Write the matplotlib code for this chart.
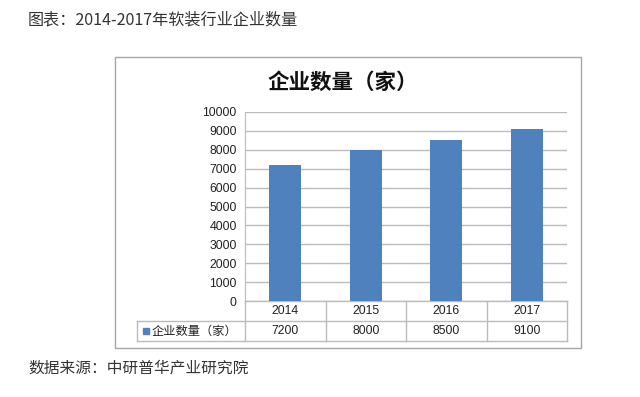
import matplotlib.pyplot as plt
from matplotlib.patches import Rectangle

plt.rcParams['font.family'] = ['Liberation Sans', 'Noto Sans CJK SC', 'DejaVu Sans']

years = ['2014', '2015', '2016', '2017']
counts = [7200, 8000, 8500, 9100]
series_name = '企业数量（家）'
header = '图表：2014-2017年软装行业企业数量'
source = '数据来源：中研普华产业研究院'

W, H = 640, 397
fig = plt.figure(figsize=(W / 100, H / 100), dpi=100)

def fx(px):
    return px / W

def fy(py):
    return 1 - py / H

# outer chart frame
fig.patches.append(Rectangle((fx(115), fy(348)), fx(581) - fx(115), fy(57) - fy(348),
                             transform=fig.transFigure, fill=False, ec='#a6a6a6', lw=1))

fig.text(fx(28), fy(20), header, fontsize=11.6, color='#333333', va='center',
         family=['Noto Sans CJK SC'])
fig.text(fx(28), fy(368), source, fontsize=11.3, color='#333333', va='center',
         family=['Noto Sans CJK SC'])
fig.text(fx(343), fy(82), series_name, fontsize=15.5, fontweight='bold', color='#111111',
         ha='center', va='center', family=['Noto Sans CJK SC'])

L, R, T, B = 245, 567, 112, 301
ax = fig.add_axes([fx(L), fy(B), fx(R) - fx(L), fy(T) - fy(B)])
x = list(range(len(years)))
ax.bar(x, counts, width=0.4, color='#4f81bd', zorder=3)
ax.set_xlim(-0.5, len(years) - 0.5)
ax.set_ylim(0, 10000)
ax.set_yticks(range(0, 10001, 1000))
ax.tick_params(axis='y', length=0, labelsize=8.8, pad=6, colors='#222222')
ax.set_xticks([])
ax.grid(axis='y', color='#bcbcbc', lw=1, zorder=0)
for s in ['top', 'right', 'bottom']:
    ax.spines[s].set_visible(False)
ax.spines['left'].set_color('#bcbcbc')

# data table under the axes
h = B - T
r1 = -20 / h
r2 = -40 / h
leg_left = (137 - L) / (R - L)
lc = '#bcbcbc'
kw = dict(transform=ax.transAxes, color=lc, lw=1, clip_on=False)
ax.plot([0, 1], [0, 0], **kw)
ax.plot([leg_left, 1], [r1, r1], **kw)
ax.plot([leg_left, 1], [r2, r2], **kw)
ax.plot([leg_left, leg_left], [r1, r2], **kw)
for i in range(len(years) + 1):
    ax.plot([i / len(years)] * 2, [0, r2], **kw)
for i, (yr, v) in enumerate(zip(years, counts)):
    cx = (i + 0.5) / len(years)
    ax.text(cx, r1 / 2, yr, transform=ax.transAxes, ha='center', va='center',
            fontsize=8.8, color='#222222')
    ax.text(cx, (r1 + r2) / 2, str(v), transform=ax.transAxes, ha='center', va='center',
            fontsize=8.8, color='#222222')
ax.add_patch(Rectangle(((143 - L) / (R - L), (r1 + r2) / 2 - 3 / h), 6 / (R - L), 6 / h,
                       transform=ax.transAxes, color='#4f81bd', clip_on=False))
ax.text((152 - L) / (R - L), (r1 + r2) / 2, series_name, transform=ax.transAxes,
        ha='left', va='center', fontsize=8.8, color='#222222', family=['Noto Sans CJK SC'])

fig.savefig('out.png', dpi=100)
